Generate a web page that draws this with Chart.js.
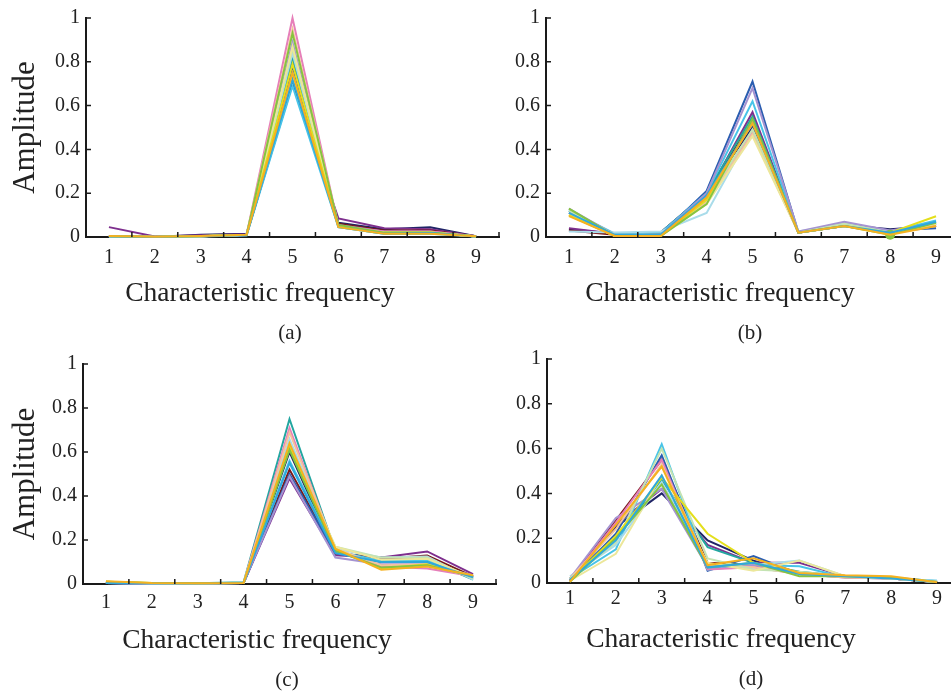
<!DOCTYPE html>
<html>
<head>
<meta charset="utf-8">
<title>Characteristic frequency amplitudes</title>
<script src="https://cdn.jsdelivr.net/npm/chart.js@4.4.1/dist/chart.umd.min.js"></script>
<style>
  html, body { margin: 0; padding: 0; background: #fff; width: 951px; height: 697px; overflow: hidden; }
  .panel { position: absolute; }
  canvas { display: block; }
</style>
</head>
<body>
<div class="panel" style="left:0px;top:0px"><canvas id="chartA" width="520" height="350"></canvas></div>
<div class="panel" style="left:460px;top:0px"><canvas id="chartB" width="504" height="350"></canvas></div>
<div class="panel" style="left:-3px;top:346px"><canvas id="chartC" width="520" height="350"></canvas></div>
<div class="panel" style="left:461px;top:341px"><canvas id="chartD" width="504" height="350"></canvas></div>
<script>
// --- Data ---
const freqs = ['1', '2', '3', '4', '5', '6', '7', '8', '9'];
const yTicks = [0, 0.2, 0.4, 0.6, 0.8, 1];

const lineColors = [
  '#1f2466', '#7e2f8e', '#7a1a1a', '#2a5db0', '#23a6a0', '#48c4e8', '#a9dcea', '#a593d1',
  '#e67fb9', '#f5c39c', '#c4e3b2', '#ece79a', '#e4df1c', '#86c440', '#2fa8dc', '#f5b120'
];

// (a)
const seriesA = [
  [0.005, 0.000, 0.010, 0.015, 0.80, 0.065, 0.035, 0.045, 0.003],
  [0.045, 0.002, 0.008, 0.012, 0.70, 0.085, 0.040, 0.035, 0.003],
  [0.004, 0.000, 0.004, 0.010, 0.71, 0.060, 0.030, 0.030, 0.003],
  [0.003, 0.000, 0.004, 0.010, 0.78, 0.050, 0.020, 0.020, 0.002],
  [0.003, 0.001, 0.003, 0.010, 0.82, 0.050, 0.020, 0.020, 0.002],
  [0.002, 0.000, 0.003, 0.008, 0.69, 0.045, 0.015, 0.015, 0.002],
  [0.002, 0.000, 0.002, 0.008, 0.84, 0.050, 0.018, 0.020, 0.002],
  [0.004, 0.001, 0.004, 0.010, 0.89, 0.055, 0.025, 0.025, 0.003],
  [0.004, 0.001, 0.003, 0.010, 1.00, 0.050, 0.025, 0.025, 0.003],
  [0.003, 0.000, 0.003, 0.010, 0.95, 0.050, 0.020, 0.020, 0.002],
  [0.003, 0.000, 0.003, 0.010, 0.86, 0.050, 0.020, 0.020, 0.002],
  [0.003, 0.000, 0.003, 0.010, 0.87, 0.050, 0.020, 0.020, 0.002],
  [0.003, 0.000, 0.003, 0.010, 0.79, 0.050, 0.020, 0.020, 0.002],
  [0.004, 0.001, 0.004, 0.010, 0.93, 0.055, 0.020, 0.020, 0.003],
  [0.002, 0.000, 0.003, 0.009, 0.72, 0.045, 0.015, 0.018, 0.002],
  [0.004, 0.001, 0.004, 0.010, 0.75, 0.045, 0.015, 0.015, 0.003]
];

// (b)
const seriesB = [
  [0.035, 0.015, 0.020, 0.20, 0.50, 0.020, 0.055, 0.035, 0.050],
  [0.040, 0.015, 0.015, 0.19, 0.57, 0.020, 0.060, 0.030, 0.060],
  [0.030, 0.010, 0.020, 0.20, 0.53, 0.020, 0.050, 0.020, 0.050],
  [0.120, 0.010, 0.010, 0.21, 0.71, 0.020, 0.060, 0.030, 0.040],
  [0.110, 0.010, 0.010, 0.20, 0.55, 0.020, 0.055, 0.020, 0.070],
  [0.120, 0.015, 0.020, 0.20, 0.62, 0.020, 0.055, 0.025, 0.075],
  [0.025, 0.020, 0.025, 0.11, 0.49, 0.025, 0.060, 0.025, 0.060],
  [0.130, 0.010, 0.010, 0.20, 0.68, 0.025, 0.070, 0.030, 0.060],
  [0.110, 0.005, 0.005, 0.17, 0.48, 0.020, 0.050, 0.015, 0.055],
  [0.100, 0.005, 0.005, 0.16, 0.47, 0.020, 0.050, 0.015, 0.050],
  [0.120, 0.010, 0.010, 0.17, 0.49, 0.020, 0.060, 0.020, 0.065],
  [0.100, 0.005, 0.005, 0.15, 0.46, 0.020, 0.050, 0.015, 0.060],
  [0.100, 0.005, 0.005, 0.17, 0.53, 0.020, 0.050, 0.020, 0.095],
  [0.130, 0.005, 0.005, 0.15, 0.54, 0.020, 0.050, 0.010, 0.065],
  [0.110, 0.010, 0.010, 0.19, 0.52, 0.020, 0.050, 0.020, 0.070],
  [0.095, 0.005, 0.005, 0.18, 0.52, 0.020, 0.050, 0.010, 0.050]
];

// (c)
const seriesC = [
  [0.005, 0.003, 0.003, 0.005, 0.60, 0.14, 0.120, 0.120, 0.030],
  [0.005, 0.003, 0.003, 0.005, 0.48, 0.13, 0.120, 0.148, 0.045],
  [0.005, 0.003, 0.003, 0.005, 0.52, 0.14, 0.115, 0.130, 0.035],
  [0.005, 0.002, 0.002, 0.005, 0.50, 0.14, 0.100, 0.100, 0.030],
  [0.005, 0.002, 0.003, 0.008, 0.75, 0.15, 0.100, 0.110, 0.020],
  [0.005, 0.002, 0.002, 0.005, 0.56, 0.15, 0.105, 0.110, 0.025],
  [0.005, 0.002, 0.002, 0.006, 0.66, 0.16, 0.120, 0.125, 0.020],
  [0.004, 0.002, 0.002, 0.005, 0.49, 0.12, 0.090, 0.090, 0.040],
  [0.005, 0.002, 0.002, 0.005, 0.71, 0.15, 0.080, 0.070, 0.035],
  [0.008, 0.003, 0.003, 0.006, 0.69, 0.16, 0.085, 0.090, 0.030],
  [0.010, 0.003, 0.003, 0.005, 0.63, 0.17, 0.120, 0.120, 0.025],
  [0.008, 0.003, 0.003, 0.005, 0.62, 0.17, 0.110, 0.115, 0.030],
  [0.010, 0.004, 0.003, 0.005, 0.62, 0.16, 0.070, 0.090, 0.035],
  [0.010, 0.004, 0.004, 0.006, 0.61, 0.15, 0.075, 0.085, 0.035],
  [0.005, 0.002, 0.002, 0.005, 0.55, 0.14, 0.100, 0.100, 0.030],
  [0.012, 0.005, 0.003, 0.005, 0.64, 0.16, 0.065, 0.080, 0.040]
];

// (d)
const seriesD = [
  [0.010, 0.25, 0.40, 0.190, 0.100, 0.040, 0.030, 0.020, 0.005],
  [0.010, 0.26, 0.42, 0.170, 0.090, 0.090, 0.030, 0.020, 0.005],
  [0.010, 0.28, 0.55, 0.090, 0.080, 0.040, 0.030, 0.020, 0.005],
  [0.010, 0.22, 0.57, 0.055, 0.120, 0.040, 0.030, 0.020, 0.005],
  [0.020, 0.20, 0.46, 0.160, 0.090, 0.050, 0.030, 0.025, 0.008],
  [0.020, 0.15, 0.62, 0.060, 0.080, 0.075, 0.025, 0.020, 0.010],
  [0.030, 0.17, 0.45, 0.080, 0.080, 0.100, 0.030, 0.020, 0.010],
  [0.020, 0.29, 0.42, 0.070, 0.080, 0.040, 0.025, 0.020, 0.005],
  [0.010, 0.27, 0.55, 0.060, 0.070, 0.040, 0.025, 0.020, 0.005],
  [0.020, 0.24, 0.53, 0.080, 0.070, 0.040, 0.025, 0.020, 0.005],
  [0.020, 0.18, 0.60, 0.110, 0.060, 0.050, 0.030, 0.020, 0.005],
  [0.010, 0.13, 0.48, 0.090, 0.055, 0.100, 0.030, 0.020, 0.005],
  [0.010, 0.21, 0.47, 0.220, 0.090, 0.040, 0.030, 0.025, 0.005],
  [0.005, 0.20, 0.44, 0.070, 0.090, 0.030, 0.030, 0.025, 0.005],
  [0.015, 0.19, 0.48, 0.070, 0.090, 0.040, 0.030, 0.020, 0.005],
  [0.005, 0.26, 0.52, 0.080, 0.110, 0.045, 0.035, 0.030, 0.003]
];

// --- Styles ---
const axisColor = '#1a1a1a';
const textColor = '#222';
const serif = '"Liberation Serif", "Times New Roman", serif';

// inward tick marks (MATLAB style) + x label and panel tag
const matlabAxes = {
  id: 'matlabAxes',
  afterDraw(chart, args, opts) {
    const {ctx, chartArea, scales: {x, y}} = chart;
    ctx.save();
    ctx.strokeStyle = axisColor;
    ctx.lineWidth = 1.5;
    ctx.beginPath();
    for (let i = 0; i <= freqs.length; i++) {
      const px = x.getPixelForValue(i - 0.5);
      ctx.moveTo(px, y.bottom);
      ctx.lineTo(px, y.bottom - 5);
    }
    y.ticks.forEach(t => {
      const py = y.getPixelForValue(t.value);
      ctx.moveTo(x.left, py);
      ctx.lineTo(x.left + 5, py);
    });
    ctx.stroke();

    ctx.fillStyle = textColor;
    ctx.textAlign = 'center';
    ctx.textBaseline = 'middle';
    ctx.font = '27.5px ' + serif;
    ctx.fillText('Characteristic frequency', chartArea.left + 174, chartArea.bottom + 57);
    ctx.font = '21px ' + serif;
    ctx.fillText(opts.tag, chartArea.left + 204, chartArea.bottom + 96);
    ctx.restore();
  }
};

function makePanel(canvasId, series, cfg) {
  // later series are drawn on top (order: lower = drawn last)
  const datasets = series.map((vals, i) => ({
    label: 'Sample ' + (i + 1),
    data: vals,
    order: series.length - i,
    borderColor: lineColors[i],
    backgroundColor: lineColors[i],
    borderWidth: 2,
    pointRadius: (cfg.markers && cfg.markers[i]) || 0,
    pointBorderWidth: 0,
    tension: 0,
    clip: false
  }));

  return new Chart(document.getElementById(canvasId), {
    type: 'line',
    data: { labels: freqs, datasets: datasets },
    options: {
      responsive: false,
      animation: false,
      layout: { padding: { top: 15, right: cfg.padRight, bottom: 0, left: 0 } },
      plugins: {
        legend: { display: false },
        tooltip: { enabled: false },
        matlabAxes: { tag: cfg.tag }
      },
      scales: {
        x: {
          type: 'category',
          offset: true,
          grid: { display: false, drawTicks: false },
          border: { display: true, color: axisColor, width: 2 },
          ticks: { color: textColor, padding: cfg.xPad, maxRotation: 0, autoSkip: false,
                   font: { family: serif, size: 20 } },
          afterFit: s => { s.height = cfg.xHeight; }
        },
        y: {
          min: 0, max: 1,
          afterBuildTicks: s => { s.ticks = yTicks.map(v => ({ value: v })); },
          grid: { display: false, drawTicks: false },
          border: { display: true, color: axisColor, width: 2 },
          ticks: { color: textColor, padding: 6, font: { family: serif, size: 20 },
                   callback: v => String(+v.toFixed(1)) },
          title: { display: cfg.yTitle, text: 'Amplitude', color: textColor,
                   font: { family: serif, size: 31 }, padding: { top: cfg.yTitlePad, bottom: 0 } },
          afterFit: s => { s.width = 86; }
        }
      }
    },
    plugins: [matlabAxes]
  });
}

makePanel('chartA', seriesA, { tag: '(a)', padRight: 21, xHeight: 113, xPad: 9, yTitle: true, yTitlePad: 7 });
makePanel('chartB', seriesB, { tag: '(b)', padRight: 5, xHeight: 113, xPad: 9, yTitle: false, yTitlePad: 0,
                              markers: { 13: [0, 0, 0, 0, 0, 0, 0, 5, 0] } });
makePanel('chartC', seriesC, { tag: '(c)', padRight: 21, xHeight: 112, xPad: 7, yTitle: true, yTitlePad: 10 });
makePanel('chartD', seriesD, { tag: '(d)', padRight: 5, xHeight: 108, xPad: 4, yTitle: false, yTitlePad: 0 });
</script>
</body>
</html>
